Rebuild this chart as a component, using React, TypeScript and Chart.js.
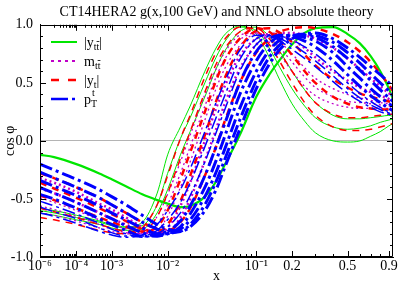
import React, { useEffect, useRef } from 'react';
import { Chart, registerables, Scale } from 'chart.js';

Chart.register(...registerables);

// ---------------- data ----------------
const TITLE = 'CT14HERA2 g(x,100 GeV) and NNLO absolute theory';
const X_LABEL = 'x';
const Y_LABEL = 'cos \u03C6';

const xs = [1e-6, 1e-5, 1e-4, 5e-4, 1e-3, 2e-3, 4e-3, 7e-3, 0.01, 0.015, 0.02, 0.03, 0.04, 0.05, 0.07, 0.1, 0.13, 0.16, 0.2, 0.25, 0.3, 0.4, 0.5, 0.6, 0.7, 0.8, 0.9, 0.95];

const xMajorTicks = [1e-6, 1e-4, 1e-3, 1e-2, 0.1, 0.2, 0.5, 0.9];
const xMajorLabels = ['10\u207B\u2076', '10\u207B\u2074', '10\u207B\u00B3', '10\u207B\u00B2', '10\u207B\u00B9', '0.2', '0.5', '0.9'];
const xMinorTicks = [
  1e-5, 2e-5, 3e-5, 4e-5, 5e-5, 6e-5, 7e-5, 8e-5, 9e-5,
  2e-4, 3e-4, 4e-4, 5e-4, 6e-4, 7e-4, 8e-4, 9e-4,
  2e-3, 3e-3, 4e-3, 5e-3, 6e-3, 7e-3, 8e-3, 9e-3,
  0.02, 0.03, 0.04, 0.05, 0.06, 0.07, 0.08, 0.09,
  0.3, 0.4, 0.6, 0.7, 0.8,
];
const yMajorTicks = [-1, -0.5, 0, 0.5, 1];
const yMinorTicks = [-0.9, -0.8, -0.7, -0.6, -0.4, -0.3, -0.2, -0.1, 0.1, 0.2, 0.3, 0.4, 0.6, 0.7, 0.8, 0.9];

// |y_ttbar| (green, solid)
const yttThick = [-0.12, -0.14, -0.2, -0.28, -0.33, -0.39, -0.46, -0.51, -0.54, -0.57, -0.56, -0.48, -0.35, -0.2, 0.05, 0.38, 0.57, 0.7, 0.83, 0.93, 0.97, 0.98, 0.92, 0.84, 0.73, 0.6, 0.45, 0.36];
const ytt1 = [-0.58, -0.6, -0.64, -0.69, -0.72, -0.74, -0.7, -0.45, -0.12, 0.12, 0.3, 0.6, 0.8, 0.92, 0.99, 0.92, 0.72, 0.52, 0.32, 0.17, 0.07, 0.0, -0.01, 0.0, 0.04, 0.08, 0.13, 0.15];
const ytt2 = [-0.6, -0.62, -0.66, -0.7, -0.73, -0.75, -0.73, -0.55, -0.28, 0.02, 0.2, 0.5, 0.72, 0.86, 0.98, 0.95, 0.8, 0.63, 0.45, 0.3, 0.2, 0.12, 0.1, 0.11, 0.13, 0.16, 0.18, 0.19];
const ytt3 = [-0.62, -0.64, -0.68, -0.72, -0.75, -0.77, -0.76, -0.62, -0.42, -0.12, 0.08, 0.38, 0.62, 0.78, 0.94, 0.98, 0.9, 0.77, 0.6, 0.44, 0.33, 0.22, 0.19, 0.19, 0.2, 0.21, 0.22, 0.21];

// m_ttbar (magenta, dotted)
const mtt1 = [-0.62, -0.64, -0.69, -0.75, -0.78, -0.8, -0.79, -0.65, -0.46, -0.18, 0.05, 0.4, 0.62, 0.77, 0.91, 0.93, 0.85, 0.74, 0.6, 0.47, 0.39, 0.32, 0.29, 0.28, 0.28, 0.28, 0.28, 0.27];
const mtt2 = [-0.56, -0.59, -0.65, -0.72, -0.76, -0.79, -0.8, -0.72, -0.55, -0.28, -0.05, 0.3, 0.55, 0.71, 0.87, 0.93, 0.89, 0.8, 0.68, 0.55, 0.46, 0.38, 0.34, 0.33, 0.32, 0.31, 0.3, 0.29];
const mtt3 = [-0.49, -0.53, -0.6, -0.68, -0.72, -0.76, -0.8, -0.77, -0.65, -0.4, -0.18, 0.18, 0.45, 0.63, 0.82, 0.92, 0.91, 0.85, 0.75, 0.63, 0.54, 0.45, 0.4, 0.37, 0.35, 0.33, 0.32, 0.31];
const mtt4 = [-0.41, -0.45, -0.53, -0.62, -0.67, -0.72, -0.78, -0.8, -0.75, -0.56, -0.36, 0.0, 0.28, 0.48, 0.73, 0.88, 0.92, 0.91, 0.87, 0.8, 0.72, 0.6, 0.52, 0.46, 0.42, 0.39, 0.36, 0.34];
const mtt5 = [-0.32, -0.36, -0.44, -0.54, -0.59, -0.66, -0.74, -0.79, -0.79, -0.66, -0.5, -0.17, 0.1, 0.33, 0.62, 0.83, 0.91, 0.93, 0.93, 0.91, 0.88, 0.8, 0.71, 0.62, 0.54, 0.47, 0.41, 0.38];

// |y_t| (red, dashed)
const yt1 = [-0.66, -0.68, -0.72, -0.77, -0.79, -0.8, -0.75, -0.55, -0.3, 0.02, 0.22, 0.55, 0.76, 0.88, 0.98, 0.95, 0.83, 0.68, 0.5, 0.33, 0.22, 0.12, 0.09, 0.09, 0.1, 0.12, 0.14, 0.15];
const yt2 = [-0.58, -0.61, -0.66, -0.72, -0.75, -0.78, -0.78, -0.65, -0.45, -0.15, 0.08, 0.42, 0.66, 0.8, 0.94, 0.97, 0.88, 0.76, 0.6, 0.44, 0.33, 0.23, 0.2, 0.2, 0.21, 0.22, 0.23, 0.23];
const yt3 = [-0.47, -0.51, -0.58, -0.66, -0.7, -0.74, -0.78, -0.74, -0.6, -0.33, -0.1, 0.25, 0.52, 0.7, 0.88, 0.97, 0.94, 0.86, 0.74, 0.6, 0.5, 0.38, 0.32, 0.29, 0.28, 0.27, 0.27, 0.26];
const yt4 = [-0.36, -0.41, -0.49, -0.58, -0.63, -0.69, -0.76, -0.79, -0.72, -0.52, -0.3, 0.05, 0.34, 0.55, 0.8, 0.95, 0.97, 0.93, 0.85, 0.74, 0.65, 0.53, 0.46, 0.41, 0.38, 0.36, 0.34, 0.33];
const yt5 = [-0.28, -0.32, -0.4, -0.49, -0.55, -0.62, -0.7, -0.76, -0.77, -0.7, -0.58, -0.3, -0.05, 0.18, 0.5, 0.76, 0.88, 0.94, 0.97, 0.98, 0.97, 0.92, 0.85, 0.77, 0.68, 0.58, 0.48, 0.43];

// p_T^t (blue, dash-dot)
const pt1 = [-0.2, -0.25, -0.33, -0.42, -0.48, -0.55, -0.64, -0.72, -0.76, -0.78, -0.74, -0.6, -0.42, -0.22, 0.1, 0.45, 0.66, 0.79, 0.88, 0.92, 0.93, 0.88, 0.8, 0.72, 0.64, 0.57, 0.5, 0.45];
const pt2 = [-0.27, -0.32, -0.4, -0.49, -0.55, -0.62, -0.7, -0.76, -0.79, -0.78, -0.72, -0.55, -0.35, -0.15, 0.18, 0.52, 0.72, 0.83, 0.9, 0.92, 0.91, 0.85, 0.76, 0.67, 0.58, 0.5, 0.43, 0.39];
const pt3 = [-0.34, -0.39, -0.47, -0.56, -0.62, -0.68, -0.75, -0.8, -0.8, -0.76, -0.68, -0.48, -0.27, -0.06, 0.28, 0.6, 0.78, 0.87, 0.91, 0.91, 0.89, 0.81, 0.71, 0.61, 0.52, 0.44, 0.37, 0.34];
const pt4 = [-0.4, -0.45, -0.53, -0.62, -0.67, -0.73, -0.79, -0.82, -0.8, -0.74, -0.63, -0.4, -0.17, 0.05, 0.4, 0.69, 0.84, 0.9, 0.91, 0.89, 0.86, 0.76, 0.64, 0.54, 0.45, 0.38, 0.32, 0.3];
const pt5 = [-0.46, -0.5, -0.58, -0.67, -0.72, -0.77, -0.82, -0.82, -0.78, -0.69, -0.56, -0.3, -0.05, 0.16, 0.5, 0.77, 0.88, 0.91, 0.9, 0.86, 0.81, 0.69, 0.57, 0.47, 0.39, 0.33, 0.28, 0.26];
const pt6 = [-0.52, -0.56, -0.63, -0.71, -0.76, -0.8, -0.83, -0.8, -0.74, -0.62, -0.47, -0.18, 0.07, 0.28, 0.6, 0.83, 0.9, 0.9, 0.87, 0.81, 0.75, 0.62, 0.5, 0.41, 0.34, 0.29, 0.25, 0.24];
const pt7 = [-0.57, -0.61, -0.67, -0.75, -0.79, -0.82, -0.82, -0.77, -0.68, -0.53, -0.36, -0.05, 0.2, 0.4, 0.7, 0.88, 0.91, 0.88, 0.83, 0.76, 0.69, 0.56, 0.45, 0.37, 0.31, 0.27, 0.24, 0.23];
const pt8 = [-0.62, -0.65, -0.71, -0.78, -0.81, -0.83, -0.81, -0.72, -0.6, -0.42, -0.24, 0.08, 0.33, 0.52, 0.78, 0.91, 0.91, 0.86, 0.79, 0.71, 0.64, 0.51, 0.41, 0.34, 0.29, 0.25, 0.23, 0.22];

// ---------------- styles ----------------
const GREEN = '#00e600';
const MAGENTA = '#c000c8';
const RED = '#ff0000';
const BLUE = '#0000ff';
const DOT = [2, 3];
const DASH = [7, 6];
const DASHDOT = [13, 4, 3, 4];
const FONT = '"Liberation Serif", "Times New Roman", serif';

// ---------------- custom x^0.2 scale ----------------
const EXP = 0.2;
const tf = (v: number) => Math.pow(v, EXP);

class PowScale extends Scale {
  static id = 'pow';
  static defaults = {};
  _s = 0;
  _r = 1;
  determineDataLimits() {
    const { min, max } = this.getMinMax(true);
    const o: any = this.options;
    this.min = o.min ?? min;
    this.max = o.max ?? max;
  }
  buildTicks() {
    const all = [...xMajorTicks, ...xMinorTicks].sort((a, b) => a - b);
    return all.map((v) => ({ value: v, major: xMajorTicks.includes(v) }));
  }
  getLabelForValue(v: number) {
    return String(v);
  }
  configure() {
    super.configure();
    this._s = tf(this.min);
    this._r = tf(this.max) - this._s;
  }
  getPixelForValue(v: number) {
    return this.getPixelForDecimal((tf(v) - this._s) / this._r);
  }
  getValueForPixel(p: number) {
    const d = this.getDecimalForPixel(p);
    return Math.pow(this._s + d * this._r, 1 / EXP);
  }
}
Chart.register(PowScale as any);

// ---------------- helpers ----------------
function series(vals: number[], color: string, dash: number[], width: number, order: number) {
  return {
    data: xs.map((x, i) => ({ x, y: vals[i] })),
    borderColor: color,
    borderDash: dash,
    borderWidth: width,
    borderCapStyle: 'butt',
    pointRadius: 0,
    fill: false,
    cubicInterpolationMode: 'monotone',
    order,
  };
}

const frameTicksPlugin = {
  id: 'frameTicks',
  afterDatasetsDraw(chart: any) {
    const { ctx, chartArea: a, scales } = chart;
    ctx.save();
    ctx.strokeStyle = '#000';
    ctx.lineWidth = 1;
    ctx.setLineDash([]);
    ctx.beginPath();
    ctx.rect(Math.round(a.left) + 0.5, Math.round(a.top) + 0.5, Math.round(a.right - a.left) - 1, Math.round(a.bottom - a.top) - 1);
    ctx.stroke();
    const xt = [...xMajorTicks.map((v) => [v, 6]), ...xMinorTicks.map((v) => [v, 3])];
    ctx.beginPath();
    for (const [v, len] of xt) {
      const p = Math.round(scales.x.getPixelForValue(v)) + 0.5;
      ctx.moveTo(p, a.bottom);
      ctx.lineTo(p, a.bottom - len);
      ctx.moveTo(p, a.top);
      ctx.lineTo(p, a.top + len);
    }
    const yt = [...yMajorTicks.map((v) => [v, 6]), ...yMinorTicks.map((v) => [v, 3])];
    for (const [v, len] of yt) {
      const p = Math.round(scales.y.getPixelForValue(v)) + 0.5;
      ctx.moveTo(a.left, p);
      ctx.lineTo(a.left + len, p);
      ctx.moveTo(a.right, p);
      ctx.lineTo(a.right - len, p);
    }
    ctx.stroke();
    ctx.restore();
  },
};

type Part = { t: string; sub?: string; sup?: string; bar?: boolean };
const legendItems: { color: string; dash: number[]; width: number; parts: Part[] }[] = [
  { color: GREEN, dash: [], width: 2, parts: [{ t: '|y' }, { t: '', sub: 't' }, { t: '', sub: 't', bar: true }, { t: '|' }] },
  { color: MAGENTA, dash: [3, 4], width: 2, parts: [{ t: 'm' }, { t: '', sub: 't' }, { t: '', sub: 't', bar: true }] },
  { color: RED, dash: [8, 9], width: 2.5, parts: [{ t: '|y' }, { t: '', sub: 't' }, { t: '|' }] },
  { color: BLUE, dash: [17, 4, 3, 4], width: 2.5, parts: [{ t: 'p' }, { t: '', sub: 'T', sup: 't' }] },
];

const legendPlugin = {
  id: 'texLegend',
  afterDatasetsDraw(chart: any) {
    const { ctx } = chart;
    ctx.save();
    const x0 = 51, x1 = 77, tx = 84;
    const ys = [42, 61, 80, 99];
    legendItems.forEach((it, i) => {
      const y = ys[i];
      ctx.strokeStyle = it.color;
      ctx.lineWidth = it.width;
      ctx.setLineDash(it.dash);
      ctx.lineCap = 'butt';
      ctx.beginPath();
      ctx.moveTo(x0, y);
      ctx.lineTo(x1, y);
      ctx.stroke();
      ctx.setLineDash([]);
      ctx.fillStyle = '#000';
      ctx.textBaseline = 'alphabetic';
      ctx.textAlign = 'left';
      let x = tx;
      const base = y + 5;
      for (const p of it.parts) {
        if (p.t) {
          ctx.font = `14px ${FONT}`;
          ctx.fillText(p.t, x, base);
          x += ctx.measureText(p.t).width;
        }
        let w = 0;
        if (p.sub) {
          ctx.font = `10px ${FONT}`;
          ctx.fillText(p.sub, x, base + 3);
          const sw = ctx.measureText(p.sub).width;
          if (p.bar) {
            ctx.strokeStyle = '#000';
            ctx.lineWidth = 0.8;
            ctx.beginPath();
            ctx.moveTo(x, base - 5.5);
            ctx.lineTo(x + sw, base - 5.5);
            ctx.stroke();
          }
          w = Math.max(w, sw);
        }
        if (p.sup) {
          ctx.font = `10px ${FONT}`;
          ctx.fillText(p.sup, x + 1, base - 8);
          w = Math.max(w, ctx.measureText(p.sup).width + 1);
        }
        x += w;
      }
    });
    ctx.restore();
  },
};

export default function App() {
  const ref = useRef<HTMLCanvasElement | null>(null);
  useEffect(() => {
    if (!ref.current) return;
    const datasets: any[] = [
      series(yttThick, GREEN, [], 2.2, 4),
      series(ytt1, GREEN, [], 1, 4),
      series(ytt2, GREEN, [], 1, 4),
      series(ytt3, GREEN, [], 1, 4),
      series(mtt1, MAGENTA, DOT, 1.3, 3),
      series(mtt2, MAGENTA, DOT, 1.3, 3),
      series(mtt3, MAGENTA, DOT, 1.3, 3),
      series(mtt4, MAGENTA, DOT, 2.5, 3),
      series(mtt5, MAGENTA, DOT, 2.5, 3),
      series(yt1, RED, DASH, 1.5, 2),
      series(yt2, RED, DASH, 1.5, 2),
      series(yt3, RED, DASH, 2.5, 2),
      series(yt4, RED, DASH, 2.5, 2),
      series(yt5, RED, DASH, 2.5, 2),
      series(pt1, BLUE, DASHDOT, 3, 1),
      series(pt2, BLUE, DASHDOT, 3, 1),
      series(pt3, BLUE, DASHDOT, 3, 1),
      series(pt4, BLUE, DASHDOT, 3, 1),
      series(pt5, BLUE, DASHDOT, 3, 1),
      series(pt6, BLUE, DASHDOT, 1.5, 1),
      series(pt7, BLUE, DASHDOT, 1.5, 1),
      series(pt8, BLUE, DASHDOT, 1.5, 1),
    ];
    const chart = new Chart(ref.current, {
      type: 'line',
      data: { datasets },
      options: {
        animation: false,
        responsive: false,
        devicePixelRatio: 1,
        layout: { padding: { top: 0, right: 14, left: 0, bottom: 0 } },
        plugins: {
          legend: { display: false },
          tooltip: { enabled: false },
          title: {
            display: true,
            text: TITLE,
            color: '#000',
            fullSize: false,
            font: { family: FONT, size: 14, weight: 'normal' },
            padding: { top: 4, bottom: 4 },
          },
        },
        scales: {
          x: {
            type: 'pow',
            min: 1e-6,
            max: 0.95,
            afterFit: (s: any) => {
              s.height = 28;
            },
            grid: { display: false, drawTicks: false },
            border: { display: true, color: '#000', width: 1 },
            ticks: {
              autoSkip: false,
              maxRotation: 0,
              padding: 1,
              color: '#000',
              font: { family: FONT, size: 14 },
              callback: (v: any) => {
                const i = xMajorTicks.indexOf(v);
                return i >= 0 ? xMajorLabels[i] : '';
              },
            },
            title: {
              display: true,
              text: X_LABEL,
              color: '#000',
              font: { family: FONT, size: 14 },
              padding: { top: 0, bottom: 0 },
            },
          },
          y: {
            type: 'linear',
            min: -1,
            max: 1,
            afterFit: (s: any) => {
              s.width = 40;
            },
            grid: {
              drawTicks: false,
              color: (c: any) => (c.tick && Math.abs(c.tick.value) < 1e-9 ? '#b4b4b4' : 'rgba(0,0,0,0)'),
              lineWidth: 1,
            },
            border: { display: true, color: '#000', width: 1 },
            ticks: {
              stepSize: 0.5,
              padding: 7,
              color: '#000',
              font: { family: FONT, size: 14 },
              callback: (v: any) => Number(v).toFixed(1),
            },
            title: {
              display: true,
              text: Y_LABEL,
              color: '#000',
              font: { family: FONT, size: 14 },
              padding: { top: 2, bottom: 0 },
            },
          },
        },
      } as any,
      plugins: [frameTicksPlugin, legendPlugin],
    });
    return () => chart.destroy();
  }, []);
  return (
    <div style={{ position: 'absolute', left: 0, top: 0, width: 407, height: 285 }}>
      <canvas ref={ref} width={407} height={285} style={{ display: 'block', width: 407, height: 285 }} />
    </div>
  );
}
